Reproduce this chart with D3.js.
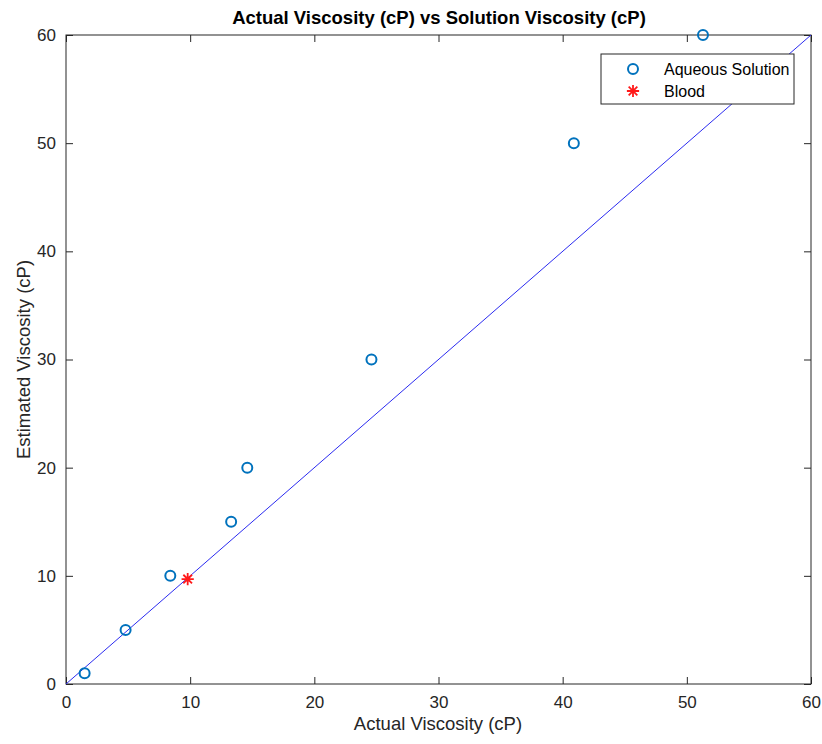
<!DOCTYPE html>
<html>
<head>
<meta charset="utf-8">
<script src="https://cdn.jsdelivr.net/npm/d3@7"></script>
<style>
  body { margin: 0; background: #fff; }
  svg { display: block; }
  text { font-family: "Liberation Sans Narrow", "Liberation Sans", Arial, sans-serif; }
</style>
</head>
<body>
<svg id="chart" width="822" height="744"></svg>
<script>
// Measured viscosities (cP): actual vs estimated
const aqueousActual    = [1.5, 4.8, 8.4, 13.3, 14.6, 24.6, 40.9, 51.3];
const aqueousEstimated = [1, 5, 10, 15, 20, 30, 50, 60];
const bloodActual    = [9.8];
const bloodEstimated = [9.7];
const tickValues = [0, 10, 20, 30, 40, 50, 60];
const legendLabels = ["Aqueous Solution", "Blood"];

const svg = d3.select("#chart");
const margin = { left: 66, right: 11, top: 35, bottom: 60 };
const W = 822, H = 744;
const x = d3.scaleLinear().domain([0, 60]).range([margin.left, W - margin.right]);
const y = d3.scaleLinear().domain([0, 60]).range([H - margin.bottom, margin.top]);
const axisColor = "#262626";

// plot frame
svg.append("rect")
  .attr("x", x(0)).attr("y", y(60))
  .attr("width", x(60) - x(0)).attr("height", y(0) - y(60))
  .attr("fill", "#fff").attr("stroke", axisColor).attr("stroke-width", 1);

function styleAxis(g, labels) {
  g.select(".domain").remove();
  g.selectAll(".tick line").attr("stroke", axisColor);
  g.selectAll(".tick text").attr("fill", axisColor).attr("font-size", 17);
  if (!labels) g.selectAll(".tick text").remove();
}

// bottom & left with labels, top & right ticks only (inward)
svg.append("g").attr("transform", `translate(0,${y(0)})`)
  .call(d3.axisBottom(x).tickValues(tickValues).tickSize(-7).tickPadding(12))
  .call(g => styleAxis(g, true));
svg.append("g").attr("transform", `translate(0,${y(60)})`)
  .call(d3.axisTop(x).tickValues(tickValues).tickSize(-7))
  .call(g => styleAxis(g, false));
svg.append("g").attr("transform", `translate(${x(0)},0)`)
  .call(d3.axisLeft(y).tickValues(tickValues).tickSize(-7).tickPadding(10))
  .call(g => styleAxis(g, true));
svg.append("g").attr("transform", `translate(${x(60)},0)`)
  .call(d3.axisRight(y).tickValues(tickValues).tickSize(-7))
  .call(g => styleAxis(g, false));

// identity line y = x
svg.append("line")
  .attr("x1", x(0)).attr("y1", y(0)).attr("x2", x(60)).attr("y2", y(60))
  .attr("stroke", "#2b2bf0").attr("stroke-width", 1);

// aqueous solution points
const aq = aqueousActual.map((v, i) => ({ a: v, e: aqueousEstimated[i] }));
svg.append("g").selectAll("circle").data(aq).join("circle")
  .attr("cx", d => x(d.a)).attr("cy", d => y(d.e)).attr("r", 5)
  .attr("fill", "none").attr("stroke", "#0072BD").attr("stroke-width", 2);

// eight-armed asterisk marker
const asterisk8 = {
  draw(ctx, size) {
    const r = Math.sqrt(size) / 2;
    for (let k = 0; k < 4; k++) {
      const a = k * Math.PI / 4;
      ctx.moveTo(r * Math.cos(a), r * Math.sin(a));
      ctx.lineTo(-r * Math.cos(a), -r * Math.sin(a));
    }
  }
};
const star = d3.symbol().type(asterisk8).size(150);
const bl = bloodActual.map((v, i) => ({ a: v, e: bloodEstimated[i] }));
svg.append("g").selectAll("path").data(bl).join("path")
  .attr("d", star)
  .attr("transform", d => `translate(${x(d.a)},${y(d.e)})`)
  .attr("fill", "none").attr("stroke", "#ff1a1a").attr("stroke-width", 1.8);

// title and axis labels
svg.append("text").attr("x", 439).attr("y", 24).attr("text-anchor", "middle")
  .attr("font-size", 18.5).attr("font-weight", "bold").attr("fill", "#000")
  .text("Actual Viscosity (cP) vs Solution Viscosity (cP)");
svg.append("text").attr("x", 438).attr("y", 730).attr("text-anchor", "middle")
  .attr("font-size", 18.5).attr("fill", axisColor)
  .text("Actual Viscosity (cP)");
svg.append("text").attr("transform", `translate(30,${(y(0) + y(60)) / 2}) rotate(-90)`)
  .attr("text-anchor", "middle").attr("font-size", 18.5).attr("fill", axisColor)
  .text("Estimated Viscosity (cP)");

// legend
const lg = svg.append("g");
lg.append("rect").attr("x", 601).attr("y", 54).attr("width", 193).attr("height", 50)
  .attr("fill", "#fff").attr("stroke", axisColor).attr("stroke-width", 1);
lg.append("circle").attr("cx", 633).attr("cy", 69).attr("r", 5)
  .attr("fill", "none").attr("stroke", "#0072BD").attr("stroke-width", 2);
lg.append("path").attr("d", star).attr("transform", "translate(633,91)")
  .attr("fill", "none").attr("stroke", "#ff1a1a").attr("stroke-width", 1.8);
lg.selectAll("text.lbl").data(legendLabels).join("text").attr("class", "lbl")
  .attr("x", 664).attr("y", (d, i) => 75 + i * 22)
  .attr("font-size", 16).attr("fill", "#000").text(d => d);
</script>
</body>
</html>
